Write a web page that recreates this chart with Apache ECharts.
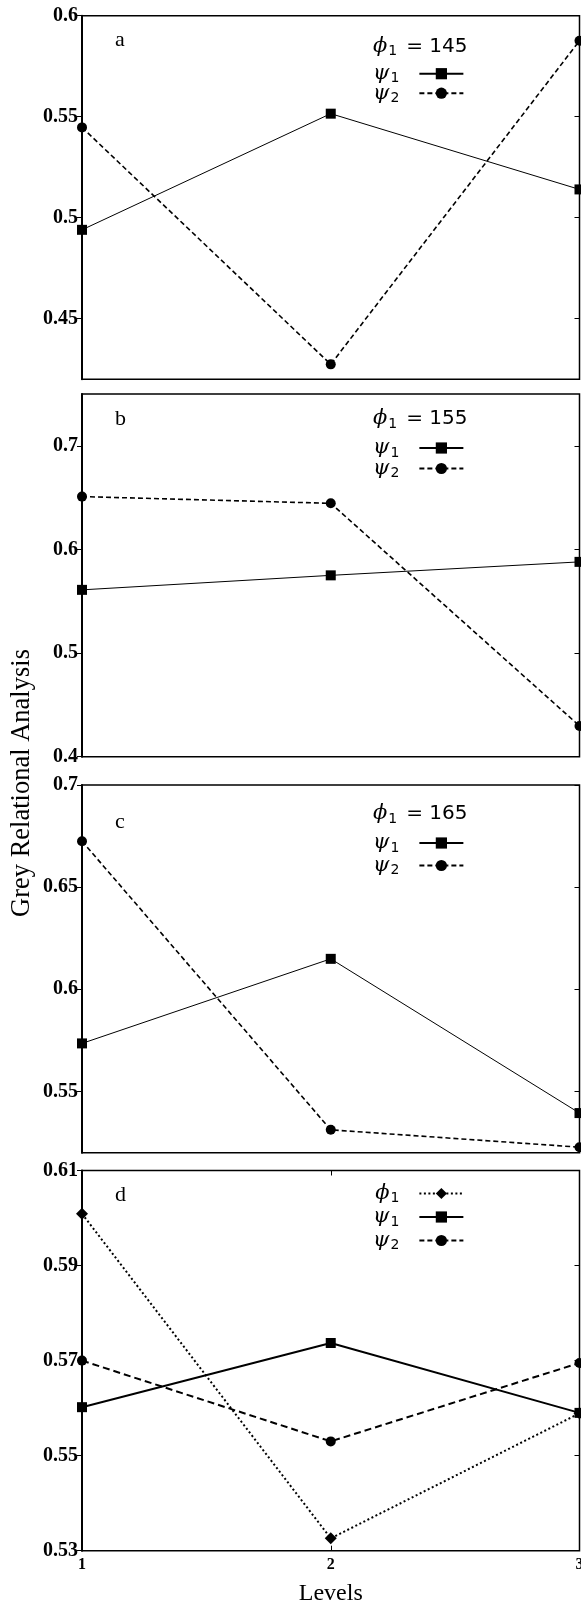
<!DOCTYPE html>
<html>
<head>
<meta charset="utf-8">
<script src="https://cdn.jsdelivr.net/npm/echarts@6/dist/echarts.min.js"></script>
<style>
  html, body { margin: 0; padding: 0; background: #fff; overflow: hidden; }
  #chart { width: 581px; height: 1605px; }
</style>
</head>
<body>
<div id="chart"></div>
<script>
// data
var levels = ['1', '2', '3']

var psi1A = [0.494, 0.5515, 0.514]
var psi2A = [0.5447, 0.4274, 0.5876]
var psi1B = [0.561, 0.575, 0.588]
var psi2B = [0.651, 0.6445, 0.4297]
var psi1C = [0.5735, 0.6149, 0.5394]
var psi2C = [0.6725, 0.5312, 0.5227]
var phi1D = [0.6009, 0.5326, 0.5589]
var psi1D = [0.5602, 0.5737, 0.559]
var psi2D = [0.570, 0.553, 0.5695]

var ticksA = [0.45, 0.5, 0.55, 0.6]
var ticksB = [0.4, 0.5, 0.6, 0.7]
var ticksC = [0.55, 0.6, 0.65, 0.7]
var ticksD = [0.53, 0.55, 0.57, 0.59, 0.61]

var phiValues = ['145', '155', '165']

var panels = [
  { letter: 'a', top: 15.7, height: 363.6, min: 0.42, max: 0.6, ticks: ticksA, psi1: psi1A, psi2: psi2A, lw: 1, phiY: 30, legY: 57, gap: -3 },
  { letter: 'b', top: 394, height: 362.7, min: 0.4, max: 0.75, ticks: ticksB, psi1: psi1B, psi2: psi2B, lw: 1, phiY: 24, legY: 53, gap: -2 },
  { letter: 'c', top: 785, height: 367.7, min: 0.52, max: 0.7, ticks: ticksC, psi1: psi1C, psi2: psi2C, lw: 1, phiY: 28, legY: 57, gap: 0 },
  { letter: 'd', top: 1170.5, height: 380.2, min: 0.53, max: 0.61, ticks: ticksD, psi1: psi1D, psi2: psi2D, phi1: phi1D, lw: 2, legY: 22, gap: 1 }
]

var greek = {
  g: { fontFamily: 'DejaVu Serif', fontStyle: 'italic', fontSize: 21, color: '#000' },
  s: { fontFamily: 'DejaVu Sans', fontSize: 14, color: '#000', padding: [10, 0, 0, 1] },
  t: { fontFamily: 'DejaVu Sans', fontSize: 20, color: '#000', padding: [0, 0, 0, 9] }
}
function legendLabel(name) {
  return '{g|' + name.charAt(0) + '}{s|' + name.charAt(1) + '}'
}

var myChart = echarts.init(document.getElementById('chart'), null, { renderer: 'canvas' })

var grid = [], xAxis = [], yAxis = [], series = [], legend = [], graphic = []

panels.forEach(function (p, i) {
  var last = i === panels.length - 1
  grid.push({
    left: 82, right: 1.5, top: p.top, height: p.height,
    outerBoundsMode: 'none', containLabel: false,
    show: true, borderColor: '#000', borderWidth: 1.5, backgroundColor: 'transparent'
  })
  xAxis.push({
    type: 'category', gridIndex: i, data: levels, boundaryGap: false,
    axisLine: { show: false },
    axisTick: { show: last, inside: true, length: 5, lineStyle: { color: '#000' } },
    axisLabel: {
      show: last, color: '#000', fontFamily: 'Liberation Serif', fontWeight: 'bold', fontSize: 16, margin: 6
    },
    splitLine: { show: false },
    name: last ? 'Levels' : '',
    nameLocation: 'middle', nameGap: 31,
    nameTextStyle: { fontFamily: 'Liberation Serif', fontSize: 24, color: '#000' }
  })
  if (last) {
    xAxis.push({
      type: 'category', gridIndex: i, data: levels, boundaryGap: false, position: 'top',
      axisLine: { show: false },
      axisTick: { show: true, inside: true, length: 5, lineStyle: { color: '#000' } },
      axisLabel: { show: false }
    })
  }
  yAxis.push({
    type: 'value', gridIndex: i, min: p.min, max: p.max,
    axisLine: { show: true, lineStyle: { color: '#000', width: 2 } },
    axisTick: { show: true, inside: false, length: 5, customValues: p.ticks, lineStyle: { color: '#000' } },
    axisLabel: {
      color: '#000', fontFamily: 'Liberation Serif', fontWeight: 'bold', fontSize: 20, margin: 4,
      customValues: p.ticks
    },
    splitLine: { show: false }
  })
  yAxis.push({
    type: 'value', gridIndex: i, min: p.min, max: p.max, position: 'right',
    axisLine: { show: false },
    axisTick: { show: true, inside: true, length: 5, customValues: p.ticks, lineStyle: { color: '#000' } },
    axisLabel: { show: false },
    splitLine: { show: false }
  })

  var xi = last ? xAxis.length - 2 : xAxis.length - 1
  var yi = i * 2
  var names = []
  if (p.phi1) {
    series.push({
      name: 'ϕ1', type: 'line', xAxisIndex: xi, yAxisIndex: yi, data: p.phi1,
      symbol: 'diamond', symbolSize: 12, showAllSymbol: true,
      lineStyle: { color: '#000', width: 2, type: [2, 2.5] },
      itemStyle: { color: '#000' }, emphasis: { disabled: true }, z: 3
    })
    names.push('ϕ1')
  }
  series.push({
    name: 'ψ1', type: 'line', xAxisIndex: xi, yAxisIndex: yi, data: p.psi1,
    symbol: 'rect', symbolSize: 10,
    lineStyle: { color: '#000', width: p.lw },
    itemStyle: { color: '#000' }, emphasis: { disabled: true }, z: 4
  })
  series.push({
    name: 'ψ2', type: 'line', xAxisIndex: xi, yAxisIndex: yi, data: p.psi2,
    symbol: 'circle', symbolSize: 10,
    lineStyle: { color: '#000', width: last ? 2 : 1.6, type: last ? [7, 4] : [5, 3] },
    itemStyle: { color: '#000' }, emphasis: { disabled: true }, z: 4
  })
  names.push('ψ1', 'ψ2')

  legend.push({
    data: names, orient: 'vertical', align: 'right',
    left: 373, top: p.top + p.legY - 9.5, padding: 0,
    itemWidth: 44, itemHeight: 14, itemGap: p.gap,
    selectedMode: false,
    formatter: legendLabel,
    textStyle: { rich: greek, padding: [0, 15, 0, 0] }
  })

  if (!last) {
    graphic.push({
      type: 'text', left: 373, top: p.top + p.phiY - 9.5,
      style: { text: '{g|ϕ}{s|1}{t|= ' + phiValues[i] + '}', rich: greek }
    })
  }
  graphic.push({
    type: 'text', left: 115, top: p.top + (i === 2 ? 26 : 14),
    style: { text: p.letter, fontFamily: 'Liberation Serif', fontSize: 22, fill: '#000' }
  })
})

graphic.push({
  type: 'text', x: 9, y: 783, rotation: Math.PI / 2,
  style: {
    text: 'Grey Relational Analysis', fontFamily: 'Liberation Serif', fontSize: 26.5, fill: '#000',
    align: 'center', verticalAlign: 'top'
  }
})

var option = {
  animation: false,
  backgroundColor: '#fff',
  grid: grid,
  xAxis: xAxis,
  yAxis: yAxis,
  legend: legend,
  graphic: graphic,
  series: series
}
myChart.setOption(option)
</script>
</body>
</html>
